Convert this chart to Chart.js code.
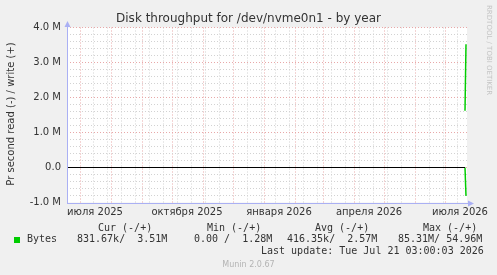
<!DOCTYPE html>
<html>
<head>
<meta charset="utf-8">
<script src="https://cdn.jsdelivr.net/npm/chart.js@4.4.1/dist/chart.umd.min.js"></script>
<style>
    html, body { margin: 0; padding: 0; background: #f0f0f0; }
    canvas { display: block; }
</style>
</head>
<body>
<canvas id="graph" width="497" height="275"></canvas>
<script>
// time axis: 400 days ending Jul 23 2026, one pixel per day
const startDate = Date.UTC(2025, 5, 18);
const spanDays = 400;

const xLabelDates = ['2025-07-16', '2025-10-16', '2026-01-16', '2026-04-16', '2026-07-16'];
const xLabelTexts = ['июля 2025', 'октября 2025', 'января 2026', 'апреля 2026', 'июля 2026'];

// samples (day offset from start), bytes per second
const sampleDays = [398, 399];
const writeValues = [1620000, 3520000];
const readValues = [0, 810000];
const zeroLineDays = [0, 398];
const zeroLineValues = [0, 0];

const legendHeaders = ['Cur (-/+)', 'Min (-/+)', 'Avg (-/+)', 'Max (-/+)'];
const legendValues = ['831.67k/  3.51M', '0.00 /  1.28M', '416.35k/  2.57M', '85.31M/ 54.96M'];
const lastUpdate = 'Last update: Tue Jul 21 03:00:03 2026';

const RED = '#e8a8a8';
const GRAY = '#d2d2d2';
const AXIS = '#aab0f4';
const GREEN = '#00cc00';

function dayOf(iso) {
    const p = iso.split('-');
    return (Date.UTC(+p[0], +p[1] - 1, +p[2]) - startDate) / 86400000;
}

const monthDays = [];
for (let m = 6; m <= 18; m++) monthDays.push((Date.UTC(2025, m, 1) - startDate) / 86400000);
const weekDays = [];
for (let d = dayOf('2025-07-14'); d < spanDays; d += 14) {
    if (monthDays.indexOf(d) < 0) weekDays.push(d);
}
const labelDays = xLabelDates.map(dayOf);

function xKind(v) {
    if (monthDays.indexOf(v) >= 0) return 'month';
    if (weekDays.indexOf(v) >= 0) return 'week';
    return 'label';
}

const munin = {
    id: 'munin',
    beforeDraw(chart) {
        const a = chart.chartArea, ctx = chart.ctx;
        ctx.save();
        ctx.fillStyle = '#ffffff';
        ctx.fillRect(a.left, a.top, a.right - a.left, a.bottom - a.top);
        ctx.restore();
    },
    afterDraw(chart) {
        const ctx = chart.ctx;
        ctx.save();
        // axes
        ctx.strokeStyle = AXIS;
        ctx.fillStyle = AXIS;
        ctx.lineWidth = 1;
        ctx.beginPath();
        ctx.moveTo(67.5, 203);
        ctx.lineTo(67.5, 24);
        ctx.moveTo(67, 203.5);
        ctx.lineTo(471, 203.5);
        ctx.stroke();
        ctx.beginPath();
        ctx.moveTo(64.5, 27); ctx.lineTo(70.5, 27); ctx.lineTo(67.5, 21); ctx.closePath();
        ctx.fill();
        ctx.beginPath();
        ctx.moveTo(468, 200.5); ctx.lineTo(468, 206.5); ctx.lineTo(474, 203.5); ctx.closePath();
        ctx.fill();

        // title
        ctx.fillStyle = '#333333';
        ctx.textBaseline = 'middle';
        ctx.textAlign = 'center';
        ctx.font = '12px "DejaVu Sans"';
        ctx.fillText('Disk throughput for /dev/nvme0n1 - by year', 248.5, 19);

        // vertical label
        ctx.save();
        ctx.translate(11, 114);
        ctx.rotate(-Math.PI / 2);
        ctx.font = '10px "DejaVu Sans"';
        ctx.fillText('Pr second read (-) / write (+)', 0, 0);
        ctx.restore();

        // rrdtool watermark
        ctx.save();
        ctx.translate(489, 5);
        ctx.rotate(Math.PI / 2);
        ctx.textAlign = 'left';
        ctx.fillStyle = '#c4c4c4';
        ctx.font = '7px "DejaVu Sans"';
        ctx.fillText('RRDTOOL / TOBI OETIKER', 0, 0);
        ctx.restore();

        // legend
        ctx.textAlign = 'left';
        ctx.font = '10px "DejaVu Sans Mono"';
        ctx.fillStyle = '#333333';
        const hx = [98, 207, 315, 423];
        const vx = [77, 194, 287, 398];
        legendHeaders.forEach((t, i) => ctx.fillText(t, hx[i], 228));
        legendValues.forEach((t, i) => ctx.fillText(t, vx[i], 239.5));
        ctx.fillText('Bytes', 27, 239.5);
        ctx.fillText(lastUpdate, 261, 251.5);
        ctx.fillStyle = GREEN;
        ctx.fillRect(14, 237, 6, 6);

        ctx.textAlign = 'center';
        ctx.fillStyle = '#b4b4b4';
        ctx.font = '8px "DejaVu Sans"';
        ctx.fillText('Munin 2.0.67', 248.5, 264.5);
        ctx.restore();
    }
};

new Chart(document.getElementById('graph'), {
    type: 'line',
    data: {
        datasets: [{
            label: 'zero',
            data: zeroLineDays.map((d, i) => ({x: d, y: zeroLineValues[i]})),
            borderColor: '#000000',
            borderWidth: 1,
            pointRadius: 0
        }, {
            label: 'read',
            data: sampleDays.map((d, i) => ({x: d, y: -readValues[i]})),
            borderColor: GREEN,
            borderWidth: 1.5,
            pointRadius: 0
        }, {
            label: 'write',
            data: sampleDays.map((d, i) => ({x: d, y: writeValues[i]})),
            borderColor: GREEN,
            borderWidth: 1.5,
            pointRadius: 0
        }]
    },
    options: {
        responsive: false,
        animation: false,
        events: [],
        layout: {padding: {top: 27.5, right: 30, left: 0, bottom: 0}},
        plugins: {legend: {display: false}, tooltip: {enabled: false}},
        elements: {line: {tension: 0}},
        scales: {
            x: {
                type: 'linear',
                min: 0,
                max: spanDays,
                afterBuildTicks(s) {
                    const all = monthDays.concat(weekDays, labelDays).sort((p, q) => p - q);
                    s.ticks = all.map(v => ({value: v}));
                },
                afterFit(s) {
                    s.height = 72.5;
                    s.paddingLeft = 0;
                    s.paddingRight = 0;
                },
                grid: {
                    drawTicks: false,
                    lineWidth: 1,
                    color(c) {
                        const k = xKind(c.tick.value);
                        return k === 'month' ? RED : (k === 'week' ? GRAY : 'rgba(0,0,0,0)');
                    }
                },
                border: {display: false, dash: [1, 2]},
                ticks: {
                    autoSkip: false,
                    maxRotation: 0,
                    padding: 4,
                    color: '#333333',
                    font: {family: 'DejaVu Sans', size: 10},
                    callback(v) {
                        const i = labelDays.indexOf(v);
                        return i >= 0 ? xLabelTexts[i] : '';
                    }
                }
            },
            y: {
                type: 'linear',
                min: -1000000,
                max: 4000000,
                afterBuildTicks(s) {
                    const t = [];
                    for (let i = -5; i <= 20; i++) t.push({value: i * 200000});
                    s.ticks = t;
                },
                afterFit(s) {
                    s.width = 67;
                    s.paddingTop = 0;
                    s.paddingBottom = 0;
                },
                grid: {
                    drawTicks: false,
                    color(c) {
                        const n = Math.round(c.tick.value / 100000);
                        if (n === -10) return 'rgba(0,0,0,0)';
                        return n % 10 === 0 ? RED : GRAY;
                    }
                },
                border: {display: false, dash: [1, 2]},
                ticks: {
                    autoSkip: false,
                    padding: 6,
                    color: '#333333',
                    font: {family: 'DejaVu Sans', size: 10},
                    callback(v) {
                        const n = Math.round(v / 100000);
                        if (n % 10 !== 0) return '';
                        if (n === 0) return '0.0';
                        return (n / 10).toFixed(1) + ' M';
                    }
                }
            }
        }
    },
    plugins: [munin]
});
</script>
</body>
</html>
